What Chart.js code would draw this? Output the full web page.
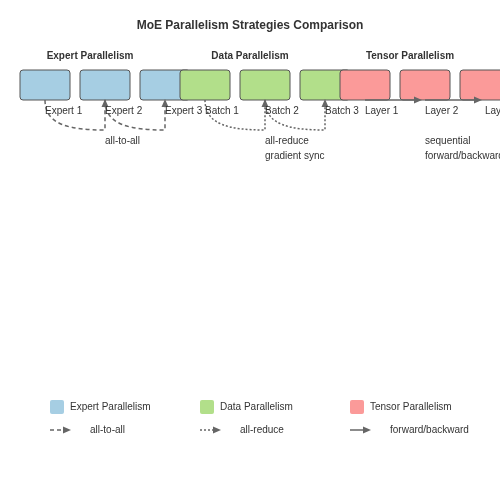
<!DOCTYPE html>
<html><head><meta charset="utf-8">
<script src="https://cdn.jsdelivr.net/npm/chart.js@4"></script>
<style>html,body{margin:0;padding:0;background:#fff}#w{width:500px;height:500px}</style>
</head><body><div id="w"><canvas id="c"></canvas></div>
<script>
const groups = ["Expert Parallelism","Data Parallelism","Tensor Parallelism"];
const groupColors = ["#a6cee3","#b2df8a","#fb9a99"];
const boxLabels = [["Expert 1","Expert 2","Expert 3"],["Batch 1","Batch 2","Batch 3"],["Layer 1","Layer 2","Layer 3"]];
const boxX = [[20,80,140],[180,240,300],[340,400,460]];
const groupTitleX = [90,250,410];
const commLabels = [["all-to-all"],["all-reduce","gradient sync"],["sequential","forward/backward"]];
const commLabelX = [105,265,425];
const legendX = [50,200,350];
const lineLegend = ["all-to-all","all-reduce","forward/backward"];
const dashes = [[4,3],[2,2],[]];
const F = "'Liberation Sans', Arial, sans-serif";

const diagram = {
  id:'diagram',
  afterDraw(chart){
    const ctx = chart.ctx, sx = chart.scales.x, sy = chart.scales.y;
    const X = v=>sx.getPixelForValue(v), Y = v=>sy.getPixelForValue(v);
    ctx.save();
    ctx.fillStyle="#333"; ctx.textAlign="center"; ctx.textBaseline="middle";
    ctx.font="bold 12px "+F; ctx.fillText("MoE Parallelism Strategies Comparison",X(250),Y(26));
    function arrowHead(x,y,dir){ // dir: 'up' or 'right'
      ctx.beginPath();
      if(dir==='up'){ctx.moveTo(x,y);ctx.lineTo(x-3.5,y+8);ctx.lineTo(x+3.5,y+8);}
      else {ctx.moveTo(x,y);ctx.lineTo(x-8,y-3.5);ctx.lineTo(x-8,y+3.5);}
      ctx.closePath(); ctx.fill();
    }
    groups.forEach((g,gi)=>{
      ctx.font="bold 10px "+F; ctx.fillStyle="#333"; ctx.textAlign="center";
      ctx.fillText(g,X(groupTitleX[gi]),Y(56));
      boxX[gi].forEach((bx,i)=>{
        ctx.fillStyle=groupColors[gi]; ctx.strokeStyle="#555"; ctx.lineWidth=1;
        ctx.beginPath(); ctx.roundRect(X(bx),Y(70),X(bx+50)-X(bx),Y(100)-Y(70),3); ctx.fill(); ctx.stroke();
      });
    });
    groups.forEach((g,gi)=>{
      ctx.strokeStyle="#666"; ctx.fillStyle="#666"; ctx.lineWidth=1.5;
      for(let i=0;i<2;i++){
        const a=boxX[gi][i]+25, b=boxX[gi][i+1]+25;
        ctx.setLineDash(dashes[gi]); ctx.beginPath();
        if(gi<2){
          ctx.moveTo(X(a),Y(100)); ctx.bezierCurveTo(X(a),Y(125),X(a+25),Y(130),X(b),Y(130));
          ctx.lineTo(X(b),Y(106)); ctx.stroke(); ctx.setLineDash([]); arrowHead(X(b),Y(99),'up');
        } else {
          ctx.moveTo(X(a),Y(100)); ctx.lineTo(X(b-6),Y(100)); ctx.stroke(); arrowHead(X(b-3),Y(100),'right');
        }
      }
      ctx.setLineDash([]);
      ctx.font="10px "+F; ctx.fillStyle="#333"; ctx.textAlign="left";
      boxLabels[gi].forEach((t,i)=>ctx.fillText(t,X(boxX[gi][i]+25),Y(111)));
      commLabels[gi].forEach((t,k)=>ctx.fillText(t,X(commLabelX[gi]),Y(141+15*k)));
      // legend
      ctx.fillStyle=groupColors[gi]; ctx.beginPath(); ctx.roundRect(X(legendX[gi]),Y(400),14,14,2); ctx.fill();
      ctx.fillStyle="#333"; ctx.font="10px "+F; ctx.fillText(g,X(legendX[gi]+20),Y(407));
      ctx.strokeStyle="#666"; ctx.fillStyle="#666"; ctx.lineWidth=1.5; ctx.setLineDash(dashes[gi]);
      ctx.beginPath(); ctx.moveTo(X(legendX[gi]),Y(430)); ctx.lineTo(X(legendX[gi]+14),Y(430)); ctx.stroke();
      ctx.setLineDash([]); arrowHead(X(legendX[gi]+21),Y(430),'right');
      ctx.fillStyle="#333"; ctx.fillText(lineLegend[gi],X(legendX[gi]+40),Y(430));
    });
    ctx.restore();
  }
};
new Chart(document.getElementById('c'),{
  type:'scatter',
  data:{datasets:[{data:[],pointRadius:0}]},
  options:{responsive:true,maintainAspectRatio:false,animation:false,
    layout:{padding:0},
    plugins:{legend:{display:false},tooltip:{enabled:false}},
    scales:{x:{type:'linear',min:0,max:500,display:false},y:{type:'linear',min:0,max:500,reverse:true,display:false}}},
  plugins:[diagram]
});
</script></body></html>
